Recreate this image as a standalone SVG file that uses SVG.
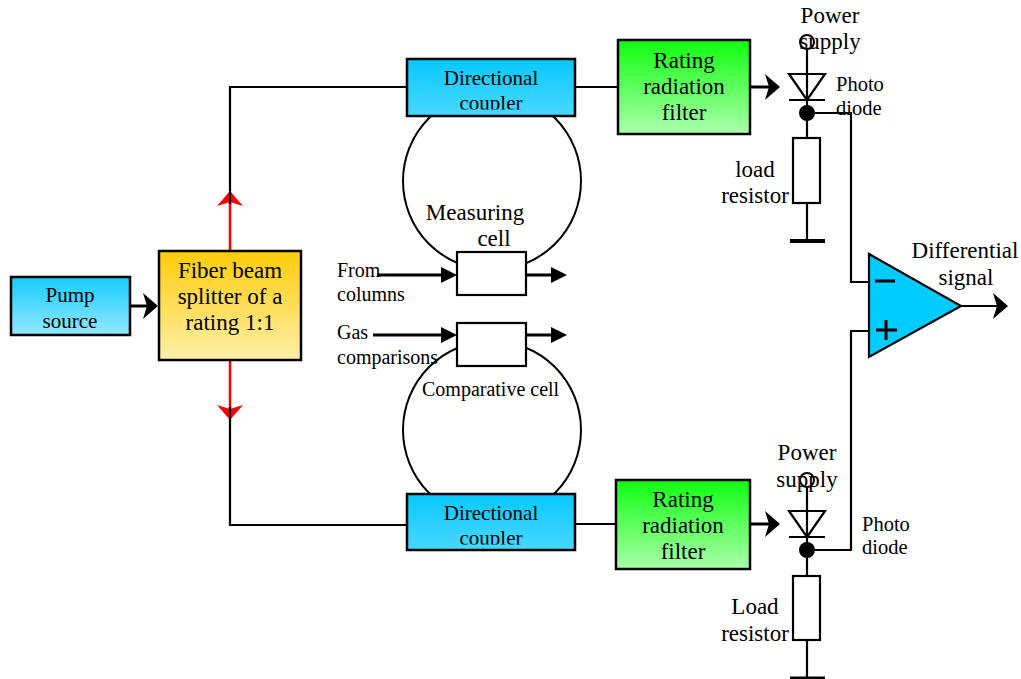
<svg xmlns="http://www.w3.org/2000/svg" width="1021" height="679" viewBox="0 0 1021 679">
<style>
text{font-family:"Liberation Serif","Times New Roman",serif;font-size:23px;fill:#000;text-anchor:middle}
text.m{font-size:21px}
text.s{font-size:20px;text-anchor:start}
text.p{font-size:20.5px;text-anchor:start}
text.c{font-size:20px;text-anchor:start}
.box{stroke:#000;stroke-width:2.5}
.w{fill:none;stroke:#000;stroke-width:2.2}
.th{fill:none;stroke:#000;stroke-width:3}
.red{fill:none;stroke:#f00;stroke-width:2.5}
.cell{fill:#fff;stroke:#000;stroke-width:2.2}
</style>
<defs>
<linearGradient id="gP" x1="0" y1="0" x2="0" y2="1"><stop offset="0" stop-color="#15CCFF"/><stop offset="1" stop-color="#94E8FF"/></linearGradient>
<linearGradient id="gD" x1="0" y1="0" x2="0" y2="1"><stop offset="0" stop-color="#08C8FF"/><stop offset="1" stop-color="#48D8FF"/></linearGradient>
<linearGradient id="gF" x1="0" y1="0" x2="0" y2="1"><stop offset="0" stop-color="#FFCC08"/><stop offset="1" stop-color="#FFEFAA"/></linearGradient>
<linearGradient id="gG" x1="0" y1="0" x2="0" y2="1"><stop offset="0" stop-color="#10FF10"/><stop offset="1" stop-color="#ABFFAB"/></linearGradient>
<clipPath id="c1"><rect x="407" y="59" width="168" height="50.5"/></clipPath>
<clipPath id="c2"><rect x="407" y="494" width="168" height="50.5"/></clipPath>
</defs>
<g id="connectors">
<path class="w" d="M230 205V87H407"/>
<path class="w" d="M230 418V525H407"/>
<path class="w" d="M575 87H618"/>
<path class="w" d="M575 524H616"/>
<path class="red" d="M230 251V196"/>
<path class="red" d="M230 360V414"/>
<path d="M230 191L243 206L230 202L217 206Z" fill="#f00"/>
<path d="M230 420L243 405L230 409L217 405Z" fill="#f00"/>
<path class="w" d="M230 192V204"/>
<path class="w" d="M230 407V420"/>
<path class="th" d="M130 306H152"/>
<path d="M158 306L143 293L147 306L143 319Z"/>
<path class="th" d="M750 87H774"/>
<path d="M780 87L765 74L769 87L765 100Z"/>
<path class="th" d="M750 524H774"/>
<path d="M780 524L765 511L769 524L765 537Z"/>
<path class="w" d="M807 113H851V282H869"/>
<path class="w" d="M807 550H851V331H869"/>
<path class="w" d="M961 306H1000"/>
<path d="M1008 306L993 293L997 306L993 319Z"/>
<path class="w" d="M807 48V138M807 203V241"/>
<path class="w" d="M807 486V576M807 640V678"/>
</g>
<g id="measuring-ring"><circle cx="492" cy="181" r="89" fill="none" stroke="#000" stroke-width="2"/></g>
<g id="comparative-ring"><circle cx="492" cy="430" r="89" fill="none" stroke="#000" stroke-width="2"/></g>
<g id="pump"><rect class="box" x="11" y="277" width="119" height="58" fill="url(#gP)"/><text class="m" x="70" y="302">Pump</text><text class="m" x="70" y="328">source</text></g>
<g id="splitter"><rect class="box" x="159" y="251" width="142" height="109" fill="url(#gF)"/><text x="230" y="278">Fiber beam</text><text x="230" y="304">splitter of a</text><text x="230" y="330">rating 1:1</text></g>
<g id="coupler-top"><rect class="box" x="407" y="59" width="168" height="57" fill="url(#gD)"/><g clip-path="url(#c1)"><text class="m" x="491" y="85">Directional</text><text class="m" x="491" y="110">coupler</text></g></g>
<g id="coupler-bottom"><rect class="box" x="407" y="494" width="168" height="56" fill="url(#gD)"/><g clip-path="url(#c2)"><text class="m" x="491" y="520">Directional</text><text class="m" x="491" y="545">coupler</text></g></g>
<g id="filter-top"><rect class="box" x="618" y="40" width="132" height="94" fill="url(#gG)"/><text x="684" y="68">Rating</text><text x="684" y="94">radiation</text><text x="684" y="120">filter</text></g>
<g id="filter-bottom"><rect class="box" x="616" y="480" width="134" height="89" fill="url(#gG)"/><text x="683" y="507">Rating</text><text x="683" y="533">radiation</text><text x="683" y="559">filter</text></g>
<g id="cell-measuring"><rect class="cell" x="457" y="252" width="69" height="43"/></g>
<g id="cell-comparative"><rect class="cell" x="457" y="323" width="69" height="43"/></g>
<g id="labels">
<text x="475" y="220">Measuring</text><text x="494" y="246">cell</text>
<text class="s" x="337" y="277">From</text><text class="s" x="337" y="301">columns</text>
<text class="s" x="337" y="339">Gas</text><text class="s" x="337" y="364">comparisons</text>
<text class="c" x="422" y="396">Comparative cell</text>
</g>
<g id="gas-arrows">
<path class="th" d="M377 275H445M526 275H555M373 335H445M526 335H555"/>
<path d="M457 275L441 267V283ZM567 275L551 267V283ZM457 335L441 327V343ZM567 335L551 327V343Z"/>
</g>
<g id="diode-top">
<circle cx="807" cy="42" r="7" fill="none" stroke="#000" stroke-width="2"/>
<path class="w" d="M789 74H825L807 100ZM789 100H825"/>
<circle cx="807" cy="113" r="8"/>
<text x="830" y="23">Power</text><text x="830" y="49">supply</text>
<text class="p" x="836" y="91">Photo</text><text class="p" x="836" y="115">diode</text>
</g>
<g id="resistor-top"><rect class="cell" x="793" y="138" width="27" height="65"/><text x="755" y="177">load</text><text x="755" y="203">resistor</text></g>
<g id="ground-top"><path d="M790 241H825" fill="none" stroke="#000" stroke-width="4"/></g>
<g id="diode-bottom">
<circle cx="807" cy="480" r="7" fill="none" stroke="#000" stroke-width="2"/>
<path class="w" d="M789 511H825L807 537ZM789 537H825"/>
<circle cx="807" cy="550" r="8"/>
<text x="807" y="460">Power</text><text x="807" y="487">supply</text>
<text class="p" x="862" y="531">Photo</text><text class="p" x="862" y="554">diode</text>
</g>
<g id="resistor-bottom"><rect class="cell" x="793" y="576" width="27" height="64"/><text x="755" y="614">Load</text><text x="755" y="641">resistor</text></g>
<g id="ground-bottom"><path d="M790 678H825" fill="none" stroke="#000" stroke-width="3"/></g>
<g id="amplifier">
<path d="M869 254V357L961 306Z" fill="#00CCFF" stroke="#000" stroke-width="2.2"/>
<path d="M875 281H895M876 330H897M886 320V340" fill="none" stroke="#000" stroke-width="3"/>
<text x="965" y="258">Differential</text><text x="966" y="285">signal</text>
</g>
</svg>
